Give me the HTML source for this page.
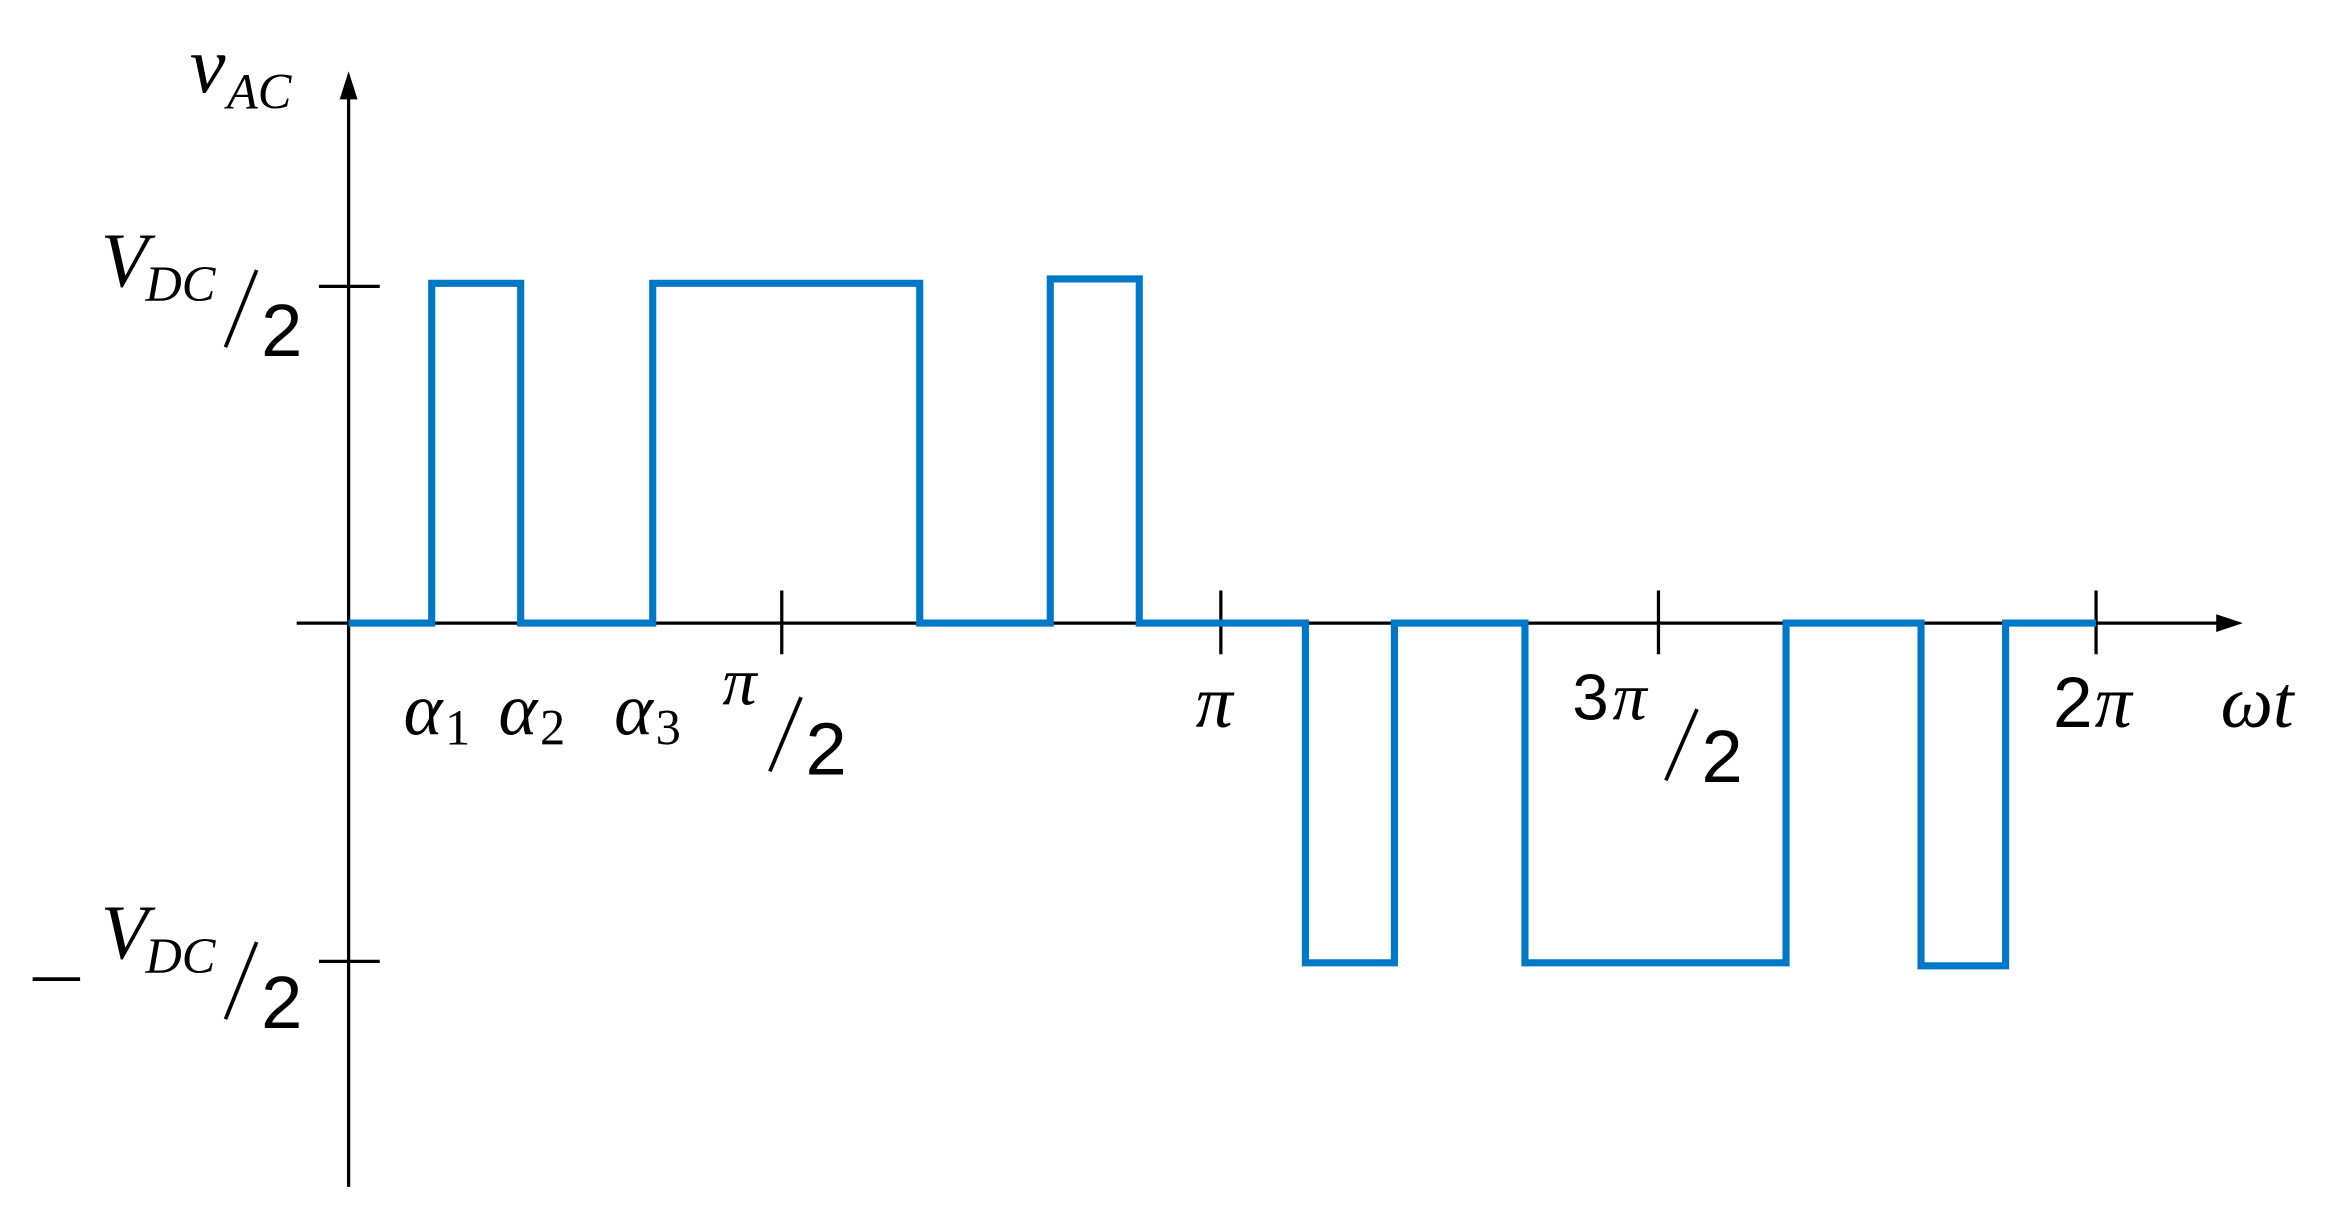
<!DOCTYPE html>
<html><head><style>html,body{margin:0;padding:0;background:#fff}svg{display:block}</style></head>
<body>
<svg width="2326" height="1218" viewBox="0 0 1568 821" preserveAspectRatio="none" xmlns="http://www.w3.org/2000/svg">
<g stroke="#000" stroke-width="2.2" fill="none">
<line x1="235" y1="62" x2="235" y2="800"/>
<line x1="200" y1="420" x2="1498" y2="420"/>
<line x1="215" y1="193" x2="256" y2="193"/>
<line x1="215" y1="648" x2="256" y2="648"/>
<line x1="527" y1="398" x2="527" y2="441"/>
<line x1="823" y1="398" x2="823" y2="441"/>
<line x1="1118" y1="398" x2="1118" y2="441"/>
<line x1="1413" y1="398" x2="1413" y2="441"/>
</g>
<polygon points="235,48 229,67 241,67" fill="#000"/>
<polygon points="1512,420 1494,414 1494,426" fill="#000"/>
<polyline fill="none" stroke="#0078c8" stroke-width="4.8" stroke-linejoin="miter"
points="235,420 291,420 291,191 351,191 351,420 440,420 440,191 620,191 620,420 708,420 708,188 768,188 768,420 880,420 880,649 940,649 940,420 1028,420 1028,649 1204,649 1204,420 1295,420 1295,651 1352,651 1352,420 1413,420"/>
<g font-family="Liberation Serif, serif" font-style="italic" fill="#000">
<text x="128" y="62" font-size="54">v</text>
<text x="153" y="73" font-size="34">AC</text>
<text x="68" y="193" font-size="52">V</text>
<text x="98" y="203" font-size="34">DC</text>
<text x="68" y="646" font-size="52">V</text>
<text x="98" y="656" font-size="34">DC</text>
<text x="272" y="495" font-size="50">α</text>
<text x="300" y="502" font-size="34" font-style="normal">1</text>
<text x="336" y="495" font-size="50">α</text>
<text x="364" y="502" font-size="34" font-style="normal">2</text>
<text x="414" y="495" font-size="50">α</text>
<text x="442" y="502" font-size="34" font-style="normal">3</text>
<text x="487" y="475" font-size="46">π</text>
<text x="806" y="490" font-size="50">π</text>
<text x="1087" y="485" font-size="46">π</text>
<text x="1412" y="490" font-size="50">π</text>
<text x="1497" y="490" font-size="50">ωt</text>
</g>
<g font-family="Liberation Sans, sans-serif" fill="#000">
<text x="176" y="240" font-size="50">2</text>
<text x="176" y="693" font-size="50">2</text>
<text x="543" y="522" font-size="50">2</text>
<text x="1147" y="527" font-size="50">2</text>
<text x="1060" y="485" font-size="44">3</text>
<text x="1384" y="490" font-size="48">2</text>
</g>
<g stroke="#000" stroke-width="2.5">
<line x1="173" y1="182" x2="152" y2="234"/>
<line x1="173" y1="635" x2="152" y2="687"/>
<line x1="540" y1="470" x2="519" y2="520"/>
<line x1="1144" y1="478" x2="1123" y2="526"/>
<line x1="22" y1="660" x2="54" y2="660"/>
</g>
</svg>
</body></html>
